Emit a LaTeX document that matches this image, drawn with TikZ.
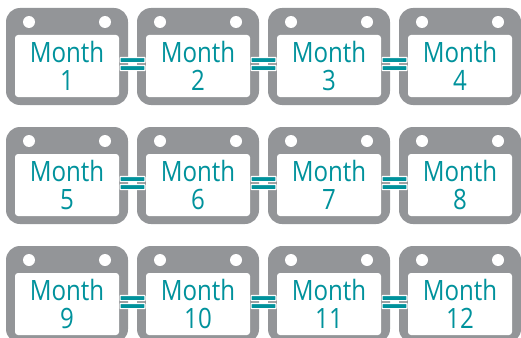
\documentclass[tikz,border=0pt]{standalone}
\usepackage{fontspec}
\setmainfont[FakeStretch=0.86]{Open Sans}
\definecolor{calgray}{RGB}{147,149,152}
\definecolor{calteal}{RGB}{0,146,156}
\usetikzlibrary{positioning,calc}
\begin{document}
\begin{tikzpicture}[x=1pt,y=-1pt,
  body/.style={fill=calgray,rounded corners=14pt,minimum width=122pt,minimum height=97pt,inner sep=0pt},
  page/.style={fill=white,rounded corners=3pt,minimum width=104pt,minimum height=62pt,inner sep=0pt,
    text=calteal,align=center,font=\fontsize{28}{28}\selectfont},
  hole/.style={fill=white,circle,minimum size=12pt,inner sep=0pt},
  eqbar/.style={fill=calteal,draw=white,line width=1.2pt,rounded corners=0.6pt,minimum width=24.8pt,minimum height=5.2pt,inner sep=0pt}]
  \useasboundingbox (0,0) rectangle (521,337);
  \clip (0,0) rectangle (521,337);
  % Calendars, one for each month
  \foreach \m in {1,...,12}{
    \pgfmathtruncatemacro{\col}{mod(\m-1,4)}
    \pgfmathtruncatemacro{\row}{div(\m-1,4)}
    \pgfmathsetmacro{\cx}{67+131*\col}
    \pgfmathsetmacro{\cy}{56.5+119*\row}
    \node[body] (cal\m) at (\cx,\cy) {};
    \node[page] (page\m) at (\cx,\cy+9.5) {Month\\\m};
    \node[hole] (holea\m) at (\cx-38,\cy-34.5) {};
    \node[hole] (holeb\m) at (\cx+38,\cy-34.5) {};
  }
  % Equals signs between neighbours
  \foreach \m in {1,2,3,5,6,7,9,10,11}{
    \pgfmathtruncatemacro{\k}{\m+1}
    \coordinate (mid\m) at ($(cal\m.east)!0.5!(cal\k.west)$);
    \node[eqbar] (eqa\m) at ($(mid\m)+(0,3.5)$) {};
    \node[eqbar] (eqb\m) at ($(mid\m)+(0,11.5)$) {};
  }
\end{tikzpicture}
\end{document}
